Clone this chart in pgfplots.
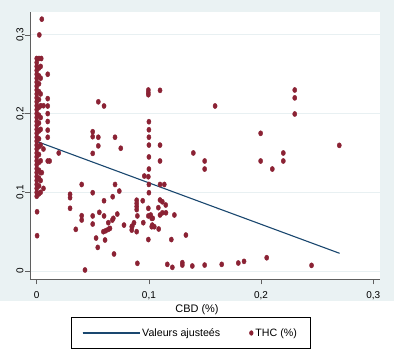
\documentclass[border=0pt]{standalone}
\usepackage{pgfplots}
\pgfplotsset{compat=1.18}
\usepackage{fontspec}
\setmainfont{Liberation Sans}
\definecolor{bgc}{RGB}{234,242,243}
\definecolor{thc}{RGB}{139,34,52}
\definecolor{navyc}{RGB}{26,71,111}
\definecolor{gridc}{RGB}{232,240,242}
\definecolor{axc}{RGB}{95,95,95}
\begin{document}
\begin{tikzpicture}
\path[use as bounding box] (0bp,0bp) rectangle (394bp,359bp);
\fill[bgc] (0bp,58bp) rectangle (394bp,359bp);
\begin{axis}[
  at={(30bp,79.7bp)}, anchor=south west,
  scale only axis, width=350bp, height=267.6bp,
  axis background/.style={fill=white},
  xmin=-0.006, xmax=0.306, ymin=-0.0105, ymax=0.3295,
  axis x line*=bottom, axis y line*=left,
  axis line style={axc, line width=0.9bp, -},
  tick align=outside, major tick length=5bp,
  major tick style={axc, line width=0.8bp},
  xtick={0,0.1,0.2,0.3}, xticklabels={0,{0,1},{0,2},{0,3}},
  ytick={0,0.1,0.2,0.3}, yticklabels={0,{0,1},{0,2},{0,3}},
  ymajorgrids, grid style={gridc, line width=1bp},
  tick label style={font=\fontsize{10}{12}\selectfont},
  xticklabel style={anchor=base, yshift=-14bp},
  yticklabel style={xshift=-1.7bp, rotate=90, anchor=base},
  xlabel={CBD (\%)},
  xlabel style={at={(axis description cs:0.477,-0.123)}, anchor=base, font=\fontsize{11}{13}\selectfont},
  legend style={at={(axis description cs:0.4586,-0.141)}, anchor=north,
    legend columns=2, draw=black, line width=0.6bp, fill=white,
    font=\fontsize{10.7}{13}\selectfont, inner xsep=11bp, inner ysep=9bp,
    /tikz/every even column/.append style={column sep=27bp}},
]
\addplot[only marks, mark=*, mark size=2.6bp, mark options={draw=thc, fill=thc, xscale=0.8}, forget plot] coordinates {
(0,0.095) (0,0.100) (0,0.105) (0,0.110) (0,0.115) (0,0.120) (0,0.125) (0,0.130)
(0,0.135) (0,0.140) (0,0.145) (0,0.150) (0,0.155) (0,0.160) (0,0.165) (0,0.170)
(0,0.175) (0,0.180) (0,0.185) (0,0.190) (0,0.195) (0,0.200) (0,0.205) (0,0.210)
(0,0.215) (0,0.220) (0,0.225) (0,0.230) (0,0.235) (0,0.240) (0,0.245) (0,0.250)
(0,0.255) (0,0.260) (0,0.265)
(0.002,0.098) (0.002,0.108) (0.002,0.118) (0.002,0.128) (0.002,0.138) (0.002,0.148)
(0.002,0.158) (0.002,0.168) (0.002,0.178) (0.002,0.188) (0.002,0.198) (0.002,0.208)
(0.002,0.218) (0.002,0.228) (0.002,0.238) (0.002,0.248) (0.002,0.258)
(0.0035,0.100) (0.0035,0.115) (0.0035,0.125) (0.0035,0.140) (0.0035,0.160)
(0.0035,0.180) (0.0035,0.195) (0.0035,0.210) (0.0035,0.225) (0.0035,0.245) (0.0035,0.260)
(0.006,0.210) (0.006,0.105) (0.006,0.155) (0.0045,0.125)
(0.0045,0.320) (0.0023,0.300) (0.000,0.270) (0.002,0.270) (0.004,0.270)
(0.0098,0.250) (0.0098,0.219) (0.0098,0.2097) (0.0098,0.200) (0.0098,0.190)
(0.0098,0.179) (0.0098,0.170) (0.0098,0.1398) (0.0115,0.1398) (0.0196,0.150)
(0.0003,0.0753) (0.0003,0.0449)
(0.0549,0.215) (0.060,0.2097) (0.0499,0.177) (0.0499,0.1707) (0.0549,0.170)
(0.0549,0.159) (0.0698,0.170) (0.0749,0.156) (0.0499,0.1495)
(0.0401,0.110) (0.0698,0.110) (0.0736,0.1016) (0.0499,0.0995) (0.0297,0.0975)
(0.0297,0.0932) (0.060,0.0893) (0.0677,0.0944) (0.0297,0.0797) (0.0558,0.0746)
(0.0401,0.0703) (0.0401,0.0648) (0.0499,0.070) (0.060,0.070) (0.0718,0.0724)
(0.0683,0.067) (0.0674,0.0648) (0.0499,0.0597) (0.0638,0.0614) (0.0778,0.0584)
(0.0867,0.0614) (0.0852,0.0572) (0.0847,0.052) (0.0891,0.050) (0.0348,0.053)
(0.0615,0.0512) (0.0638,0.053) (0.0653,0.0542) (0.0594,0.050) (0.0529,0.0419)
(0.0609,0.0394) (0.0544,0.030) (0.0689,0.0216) (0.043,0.0013) (0.0897,0.0098)
(0.0891,0.090) (0.0891,0.086) (0.0891,0.082) (0.0891,0.078) (0.0945,0.0893)
(0.0995,0.0797) (0.0995,0.070) (0.0995,0.040) (0.1025,0.067) (0.1025,0.0563)
(0.0995,0.230) (0.0995,0.2266) (0.0995,0.224) (0.1099,0.2296) (0.100,0.1897)
(0.100,0.1795) (0.100,0.170) (0.100,0.160) (0.100,0.145) (0.1099,0.160)
(0.1099,0.1398) (0.1396,0.150) (0.1497,0.1398) (0.1497,0.1296) (0.100,0.1296)
(0.0959,0.1207) (0.0995,0.1198) (0.100,0.110) (0.1099,0.110) (0.1137,0.110)
(0.100,0.0995) (0.1099,0.0902) (0.112,0.088) (0.1084,0.0805) (0.115,0.0839)
(0.1152,0.074) (0.0897,0.070) (0.1016,0.0712) (0.1034,0.067) (0.1099,0.0712)
(0.112,0.074) (0.1227,0.0712) (0.0847,0.0563) (0.095,0.0614) (0.103,0.0584)
(0.1048,0.0563) (0.1087,0.0534) (0.120,0.040) (0.133,0.0457) (0.1164,0.0085)
(0.1209,0.0047) (0.1298,0.0106) (0.1298,0.0076) (0.1387,0.0064) (0.1497,0.0076)
(0.159,0.2097) (0.230,0.230) (0.230,0.220) (0.230,0.1995) (0.1996,0.175)
(0.2697,0.1597) (0.1996,0.1398) (0.210,0.1296) (0.2198,0.150) (0.2198,0.1398)
(0.1649,0.0085) (0.1797,0.0102) (0.1848,0.0123) (0.205,0.0169) (0.245,0.0072)
};
\addplot[navyc, line width=1.1bp, legend image code/.code={\draw[navyc, line width=1.1bp] (0bp,0bp) -- (48bp,0bp); \path (0bp,0bp) -- (57bp,0bp);}] coordinates {(0,0.1647) (0.270,0.0225)};
\addlegendentry{Valeurs ajusteés}
\addlegendimage{legend image code/.code={\fill[thc] (0bp,0bp) ellipse (1.8bp and 2.3bp);}}
\addlegendentry{THC (\%)}
\end{axis}
\end{tikzpicture}
\end{document}
